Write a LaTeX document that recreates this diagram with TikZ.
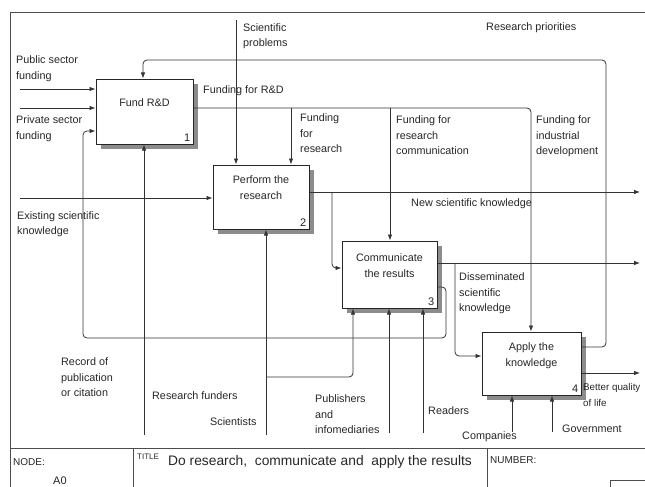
\documentclass[tikz,border=0pt]{standalone}
\usepackage{fontspec}
\setmainfont{Liberation Sans}
\usetikzlibrary{arrows.meta,shadows}
\begin{document}
\begin{tikzpicture}[x=1pt,y=-1pt,
  flow/.style={draw=black!80, line width=0.8pt, rounded corners=4pt},
  arr/.style={flow, -{Latex[length=6pt,width=4.5pt]}},
  proc/.style={draw=black!85, line width=1pt, fill=white, inner sep=0pt,
    drop shadow={shadow xshift=4.5pt, shadow yshift=-4.5pt, fill=black!45, opacity=1}},
  lbl/.style={font=\fontsize{10.8}{15.5}\selectfont, text=black!85, inner sep=0pt, align=left, anchor=north west},
  boxlbl/.style={font=\fontsize{10.8}{15.5}\selectfont, text=black!85, inner sep=0pt, align=center, anchor=north},
  num/.style={font=\fontsize{11}{13}\selectfont, text=black!85, inner sep=0pt, anchor=south east},
  frame/.style={draw=black!70, line width=0.9pt},
  small/.style={font=\fontsize{10}{12}\selectfont, text=black!85, inner sep=0pt, anchor=west}
]
\useasboundingbox (0,0) rectangle (645,487);

% activity boxes
\node[proc, minimum width=97pt, minimum height=65pt] (b1) at (144.5,111.5) {};
\node[proc, minimum width=96pt, minimum height=64pt] (b2) at (261,197) {};
\node[proc, minimum width=95pt, minimum height=67pt] (b3) at (389.5,274.5) {};
\node[proc, minimum width=99pt, minimum height=63pt] (b4) at (531.5,363.5) {};

\node[boxlbl] (t1) at (144.5,98.5) {Fund R\&D};
\node[boxlbl] (t2) at (261,175.5) {Perform the\\research};
\node[boxlbl] (t3) at (389.5,253.5) {Communicate\\the results};
\node[boxlbl] (t4) at (531.5,342.5) {Apply the\\knowledge};

\node[num] (n1) at ([xshift=-3pt,yshift=3pt]b1.south east) {1};
\node[num] (n2) at ([xshift=-3pt,yshift=3pt]b2.south east) {2};
\node[num] (n3) at ([xshift=-3pt,yshift=3pt]b3.south east) {3};
\node[num] (n4) at ([xshift=-3pt,yshift=3pt]b4.south east) {4};

% routing points
\coordinate (pubIn) at (20,89);
\coordinate (privIn) at (20,108);
\coordinate (exIn) at (20,198);
\coordinate (spIn) at (236,20);
\coordinate (rdA) at (291,108);
\coordinate (rdB) at (390,108);
\coordinate (rdC) at (531,108);
\coordinate (nkOut) at (640,192);
\coordinate (nkB) at (332,192);
\coordinate (nkT) at (332,268);
\coordinate (dsOut) at (640,263);
\coordinate (dsB) at (455,263);
\coordinate (dsT) at (455,356);
\coordinate (rc1) at (446,287);
\coordinate (rc2) at (446,338);
\coordinate (rc3) at (83,338);
\coordinate (rc4) at (83,131);
\coordinate (rfIn) at (144,435);
\coordinate (scIn) at (266,435);
\coordinate (scB) at (266,377);
\coordinate (scC) at (353,377);
\coordinate (puIn) at (389,433);
\coordinate (reIn) at (423,433);
\coordinate (rp1) at (606,347);
\coordinate (rp2) at (606,60);
\coordinate (rp3) at (143,60);
\coordinate (bqOut) at (640,373);
\coordinate (coIn) at (512,432);
\coordinate (goIn) at (552,432);

% inputs
\draw[arr] (pubIn) -- (pubIn -| b1.west);
\draw[arr] (privIn) -- (privIn -| b1.west);
\draw[arr] (exIn) -- (exIn -| b2.west);

% controls
\draw[arr] (spIn) -- (spIn |- b2.north);
\draw[arr] (b1.east |- rdC) -- (rdC) -- (rdC |- b4.north);
\draw[arr] (rdA) -- (rdA |- b2.north);
\draw[arr] (rdB) -- (rdB |- b3.north);
\draw[arr] (b4.east |- rp1) -- (rp1) -- (rp2) -- (rp3) -- (rp3 |- b1.north);

% outputs
\draw[arr] (b2.east |- nkOut) -- (nkOut);
\draw[arr] (nkB) -- (nkT) -- (nkT -| b3.west);
\draw[arr] (b3.east |- dsOut) -- (dsOut);
\draw[arr] (dsB) -- (dsT) -- (dsT -| b4.west);
\draw[arr] (b3.east |- rc1) -- (rc1) -- (rc2) -- (rc3) -- (rc4) -- (rc4 -| b1.west);
\draw[arr] (b4.east |- bqOut) -- (bqOut);

% mechanisms
\draw[arr] (rfIn) -- (rfIn |- b1.south);
\draw[arr] (scIn) -- (scIn |- b2.south);
\draw[arr] (scB) -- (scC) -- (scC |- b3.south);
\draw[arr] (puIn) -- (puIn |- b3.south);
\draw[arr] (reIn) -- (reIn |- b3.south);
\draw[arr] (coIn) -- (coIn |- b4.south);
\draw[arr] (goIn) -- (goIn |- b4.south);

% arrow labels
\node[lbl] (lPub) at (16,55.5) {Public sector\\funding};
\node[lbl] (lPriv) at (16,115.5) {Private sector\\funding};
\node[lbl] (lEx) at (17,211) {Existing scientific\\knowledge};
\node[lbl] (lSp) at (243,23) {Scientific\\problems};
\node[lbl] (lRD) at (203,85.5) {Funding for R\&D};
\node[lbl] (lFR) at (300,113.5) {Funding\\for\\research};
\node[lbl] (lFC) at (396,115.5) {Funding for\\research\\communication};
\node[lbl] (lFI) at (536,115.5) {Funding for\\industrial\\development};
\node[lbl] (lRP) at (486,22.5) {Research priorities};
\node[lbl] (lNK) at (411,198.5) {New scientific knowledge};
\node[lbl] (lDS) at (459,272.5) {Disseminated\\scientific\\knowledge};
\node[lbl] (lRC) at (61,357.5) {Record of\\publication\\or citation};
\node[lbl] (lRF) at (152,391.5) {Research funders};
\node[lbl] (lSc) at (210,417.5) {Scientists};
\node[lbl] (lPu) at (315,394.5) {Publishers\\and\\infomediaries};
\node[lbl] (lRe) at (428,406.5) {Readers};
\node[lbl] (lCo) at (462,431.5) {Companies};
\node[lbl] (lGo) at (562,424.5) {Government};
\node[lbl, font=\fontsize{9.8}{15.5}\selectfont] (lBQ) at (583,383.5) {Better quality\\of life};

% frame and title block
\coordinate (fTL) at (10,12);
\coordinate (fTR) at (645,12);
\coordinate (fBL) at (10,487);
\coordinate (tbL) at (10,448);
\coordinate (tbR) at (645,448);
\coordinate (d1T) at (133,448);
\coordinate (d1B) at (133,487);
\coordinate (d2T) at (487,448);
\coordinate (d2B) at (487,487);
\draw[frame] (fTR) -- (fTL) -- (fBL);
\draw[frame] (tbL) -- (tbR);
\draw[frame] (d1T) -- (d1B);
\draw[frame] (d2T) -- (d2B);
\draw[draw=black!70, line width=0.8pt] (648,492) -- (610,492) -- (610,480) -- (648,480);

\node[small] (lNode) at (13,462) {NODE:};
\node[small, font=\fontsize{11}{13}\selectfont] (lA0) at (53,481) {A0};
\node[small, font=\fontsize{8}{9}\selectfont] (lTit) at (137,457) {TITLE};
\node[small, font=\fontsize{13.8}{16}\selectfont] (lTitle) at (168,462) {Do research,~ communicate and~ apply the results};
\node[small] (lNum) at (490,460) {NUMBER:};
\end{tikzpicture}
\end{document}
